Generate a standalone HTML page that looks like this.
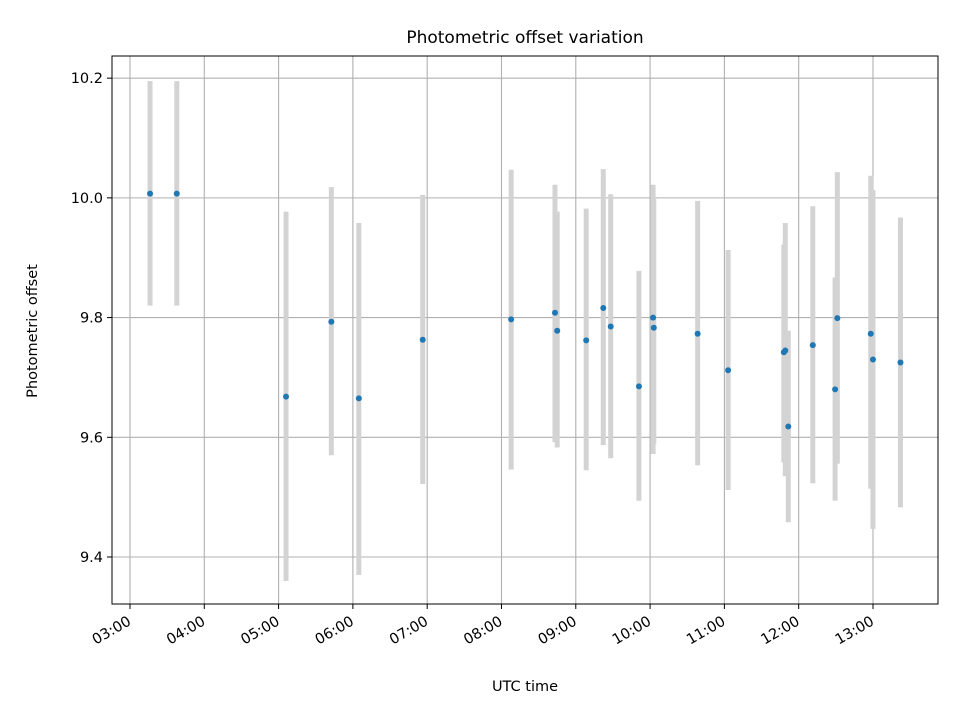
<!DOCTYPE html>
<html><head><meta charset="utf-8"><style>body{margin:0;background:#fff}svg{display:block;font-family:"DejaVu Sans","Liberation Sans",sans-serif}</style></head>
<body>
<svg id="chart" width="960" height="720" viewBox="0 0 960 720"></svg>
<script>
const times=[3.27,3.63,5.10,5.71,6.08,6.94,8.13,8.72,8.75,9.14,9.37,9.47,9.85,10.04,10.05,10.64,11.05,11.80,11.82,11.86,12.19,12.49,12.52,12.97,13.00,13.37];
const values=[10.007,10.007,9.668,9.793,9.665,9.763,9.797,9.808,9.778,9.762,9.816,9.785,9.685,9.800,9.783,9.773,9.712,9.742,9.745,9.618,9.754,9.680,9.799,9.773,9.730,9.725];
const lowers=[9.82,9.82,9.36,9.57,9.37,9.522,9.546,9.592,9.583,9.545,9.587,9.565,9.494,9.572,9.588,9.553,9.512,9.558,9.535,9.458,9.523,9.494,9.556,9.514,9.447,9.483];
const uppers=[10.195,10.195,9.977,10.018,9.958,10.005,10.047,10.022,9.977,9.982,10.048,10.006,9.878,10.022,9.998,9.995,9.913,9.922,9.958,9.778,9.986,9.867,10.043,10.037,10.013,9.967];
const xTicks=[3,4,5,6,7,8,9,10,11,12,13];
const xTickLabels=["03:00","04:00","05:00","06:00","07:00","08:00","09:00","10:00","11:00","12:00","13:00"];
const yTicks=[9.4,9.6,9.8,10.0,10.2];
const yTickLabels=["9.4","9.6","9.8","10.0","10.2"];

const L=112,R=938,T=56,B=604;
const xMin=2.758,xMax=13.875,yMin=9.3215,yMax=10.237;
const xs=h=>L+(h-xMin)/(xMax-xMin)*(R-L);
const ys=v=>B-(v-yMin)/(yMax-yMin)*(B-T);
const svg=document.getElementById('chart');
const NS='http://www.w3.org/2000/svg';
function mk(tag,attrs,parent){const e=document.createElementNS(NS,tag);for(const k in attrs)e.setAttribute(k,attrs[k]);(parent||svg).appendChild(e);return e;}

const grid=mk('g',{});


xTicks.forEach(t=>{mk('line',{x1:xs(t),x2:xs(t),y1:T,y2:B,stroke:'#b0b0b0','stroke-width':1.1},grid);});
yTicks.forEach(t=>{mk('line',{x1:L,x2:R,y1:ys(t),y2:ys(t),stroke:'#b0b0b0','stroke-width':1.1},grid);});

const eb=mk('g',{});


times.forEach((t,i)=>{const l=mk('line',{x1:xs(t),x2:xs(t),y1:ys(lowers[i]),y2:ys(uppers[i]),stroke:'#d3d3d3','stroke-width':5},eb);

});
const pts=mk('g',{});


times.forEach((t,i)=>{const c=mk('circle',{cx:xs(t),cy:ys(values[i]),r:3,fill:'#1f77b4'},pts);

});

const frame=mk('rect',{x:L,y:T,width:R-L,height:B-T,fill:'none',stroke:'#000','stroke-width':1});



const xa=mk('g',{});


xTicks.forEach((t,i)=>{const x=xs(t);mk('line',{x1:x,x2:x,y1:B,y2:B+5,stroke:'#000'},xa);
const ax=x+2,ay=B+20;
const tx=mk('text',{x:ax,y:ay,'font-size':14.5,'text-anchor':'end',transform:`rotate(-30 ${ax} ${ay})`},xa);


tx.textContent=xTickLabels[i];});
const ya=mk('g',{});


yTicks.forEach((t,i)=>{const y=ys(t);mk('line',{x1:L-5,x2:L,y1:y,y2:y,stroke:'#000'},ya);
const tx=mk('text',{x:L-9,y:y+5,'font-size':14.5,'text-anchor':'end'},ya);


tx.textContent=yTickLabels[i];});
</script>
<svg style="position:absolute;left:0;top:0" width="960" height="720">
<text x="525" y="43" font-size="17" text-anchor="middle">Photometric offset variation</text>
<text x="525" y="691" font-size="14.5" text-anchor="middle">UTC time</text>
<text x="37" y="331" font-size="14.5" text-anchor="middle" transform="rotate(-90 37 331)">Photometric offset</text>
</svg>
</body></html>
